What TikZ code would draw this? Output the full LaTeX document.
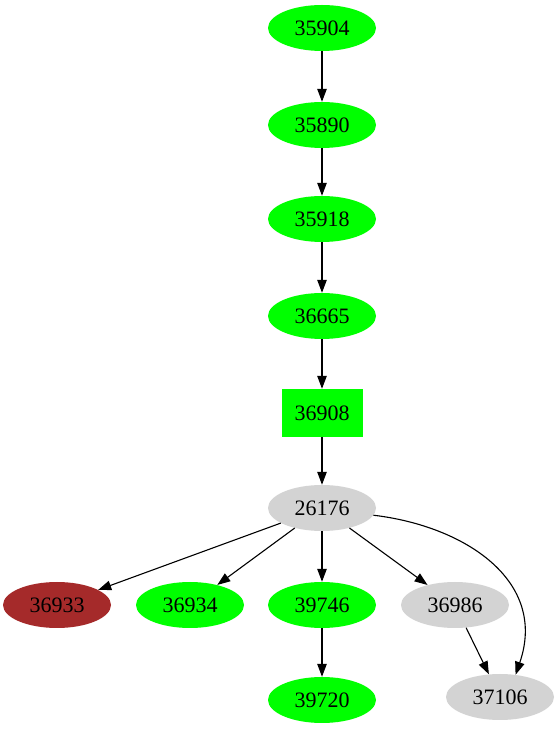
\documentclass[tikz,border=0pt]{standalone}
\usepackage{fontspec}
\setmainfont{Liberation Serif}
\usetikzlibrary{shapes.geometric,arrows.meta}
\begin{document}
\begin{tikzpicture}[x=1pt,y=1pt,
  el/.style={ellipse,minimum width=108pt,minimum height=46pt,inner sep=0pt,font=\fontsize{22}{24}\selectfont},
  grn/.style={el,fill=green},
  gry/.style={el,fill=lightgray},
  brn/.style={el,fill=brown},
  bx/.style={rectangle,fill=green,minimum width=81pt,minimum height=48pt,inner sep=0pt,font=\fontsize{22}{24}\selectfont},
  arr/.style={draw=black,line width=1.1pt,-{Triangle[length=13pt,width=9.5pt]}}]
\definecolor{green}{RGB}{0,255,0}
\definecolor{lightgray}{RGB}{211,211,211}
\definecolor{brown}{RGB}{165,42,42}
\useasboundingbox (0,0) rectangle (559,731);
\node[grn] (n35904) at (322,703) {35904};
\node[grn] (n35890) at (322,606) {35890};
\node[grn] (n35918) at (322,512) {35918};
\node[grn] (n36665) at (322,415) {36665};
\node[bx] (n36908) at (322,318) {36908};
\node[gry] (n26176) at (322,223) {26176};
\node[brn] (n36933) at (57,126) {36933};
\node[grn] (n36934) at (190,126) {36934};
\node[grn] (n39746) at (322,126) {39746};
\node[gry] (n36986) at (455,126) {36986};
\node[grn] (n39720) at (322,31) {39720};
\node[gry] (n37106) at (500,34) {37106};
\draw[arr] (n35904) -- (n35890);
\draw[arr] (n35890) -- (n35918);
\draw[arr] (n35918) -- (n36665);
\draw[arr] (n36665) -- (n36908);
\draw[arr] (n36908) -- (n26176);
\draw[arr] (n26176) -- (n36933);
\draw[arr] (n26176) -- (n36934);
\draw[arr] (n26176) -- (n39746);
\draw[arr] (n26176) -- (n36986);
\draw[arr] (n39746) -- (n39720);
\draw[arr] (n36986) -- (n37106);
\draw[arr] (n26176.-8) .. controls (465,205) and (548,150) .. (n37106.55);
\end{tikzpicture}
\end{document}
